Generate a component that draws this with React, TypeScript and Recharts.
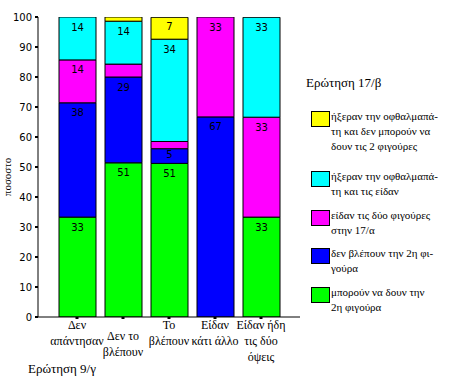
import React from 'react';
import { BarChart, Bar, XAxis, YAxis, LabelList } from 'recharts';

// Categories (Ερώτηση 9/γ), split into display lines
const categoryLines: string[][] = [
  ['Δεν', 'απάντησαν'],
  ['Δεν το', 'βλέπουν'],
  ['Το', 'βλέπουν'],
  ['Είδαν', 'κάτι άλλο'],
  ['Είδαν ήδη', 'τις δύο', 'όψεις'],
];

// Series values (percent), stack order bottom -> top
const canSee = [33.3, 51.4, 51.2, 0, 33.3];
const cannotSee = [38.1, 28.6, 4.9, 66.7, 0];
const sawBoth = [14.3, 4.3, 2.4, 33.3, 33.3];
const knewAndSaw = [14.3, 14.3, 34.1, 0, 33.3];
const knewCannot = [0, 1.4, 7.3, 0, 0];

const yTicks = [0, 10, 20, 30, 40, 50, 60, 70, 80, 90, 100];

const seriesKeys = ['canSee', 'cannotSee', 'sawBoth', 'knewAndSaw', 'knewCannot'];
const seriesValues = [canSee, cannotSee, sawBoth, knewAndSaw, knewCannot];
const seriesColors = ['#00ff00', '#0000ff', '#ff00ff', '#00ffff', '#ffff00'];
const seriesLegendLines: string[][] = [
  ['μπορούν να δουν την', '2η φιγούρα'],
  ['δεν βλέπουν την 2η φι-', 'γούρα'],
  ['είδαν τις δύο φιγούρες', 'στην 17/α'],
  ['ήξεραν την οφθαλμαπά-', 'τη και τις είδαν'],
  ['ήξεραν την οφθαλμαπά-', 'τη και δεν μπορούν να', 'δουν τις 2 φιγούρες'],
];

const xTitle = 'Ερώτηση 9/γ';
const yTitle = 'ποσοστο';
const legendTitle = 'Ερώτηση 17/β';

const data = categoryLines.map((lines, i) => {
  const row: Record<string, any> = { name: lines.join(' ') };
  seriesKeys.forEach((k, s) => {
    row[k] = seriesValues[s][i];
  });
  return row;
});

const serif = '"Liberation Serif", "Times New Roman", serif';
const sans = '"DejaVu Sans", sans-serif';

const XTick = (props: any) => {
  const { x, y, payload } = props;
  const idx = payload?.index ?? props.index ?? 0;
  const lines = categoryLines[idx] || [];
  const extra = idx === 1 ? 11 : 0;
  return (
    <text x={x} y={y} textAnchor="middle" fontFamily={serif} fontSize={12} fill="#000">
      {lines.map((l, i) => (
        <tspan key={i} x={x} dy={i === 0 ? 8 + extra : 16}>
          {l}
        </tspan>
      ))}
    </text>
  );
};

const makeLabel = () => (props: any) => {
  const { x, y, width, height, value } = props;
  if (value == null || Math.round(Number(value)) < 5) return null;
  const off = Math.min(10, Number(height) / 2 - 2);
  return (
    <text
      x={Number(x) + Number(width) / 2}
      y={Number(y) + off}
      textAnchor="middle"
      dominantBaseline="central"
      fontFamily={sans}
      fontSize={10}
      fill="#000"
    >
      {Math.round(Number(value))}
    </text>
  );
};

export default function App() {
  const legendOrder = [4, 3, 2, 1, 0];
  return (
    <div style={{ position: 'absolute', left: 0, top: 0, width: 451, height: 383, background: '#fff' }}>
      <BarChart
        width={451}
        height={383}
        data={data}
        margin={{ top: 17, right: 151, left: 0, bottom: 0 }}
        barSize={37}
      >
        <XAxis
          dataKey="name"
          xAxisId="main"
          height={66}
          padding={{ left: 16, right: 16 }}
          axisLine={{ stroke: '#000', strokeWidth: 1 }}
          tickLine={{ stroke: '#000', strokeWidth: 3 }}
          tickSize={2}
          tick={<XTick />}
          interval={0}
        />
        <XAxis
          xAxisId="top"
          orientation="top"
          dataKey="name"
          height={0}
          tick={false}
          tickLine={false}
          axisLine={{ stroke: '#000', strokeWidth: 1 }}
        />
        <YAxis
          yAxisId="main"
          width={38}
          domain={[0, 100]}
          ticks={yTicks}
          allowDataOverflow
          axisLine={{ stroke: '#000', strokeWidth: 1 }}
          tickLine={{ stroke: '#000', strokeWidth: 2 }}
          tickSize={3}
          tickMargin={3}
          tick={{ fill: '#000', fontFamily: sans, fontSize: 10 }}
        />
        <YAxis
          yAxisId="right"
          orientation="right"
          width={0}
          tick={false}
          tickLine={false}
          axisLine={{ stroke: '#000', strokeWidth: 1 }}
        />
        {seriesKeys.map((k, s) => (
          <Bar
            key={k}
            dataKey={k}
            stackId="a"
            xAxisId="main"
            yAxisId="main"
            fill={seriesColors[s]}
            stroke="#000"
            strokeWidth={1}
            isAnimationActive={false}
          >
            <LabelList dataKey={k} content={makeLabel()} />
          </Bar>
        ))}
      </BarChart>

      {/* Y axis title */}
      <div
        style={{
          position: 'absolute',
          left: 7,
          top: 177,
          transform: 'translate(-50%, -50%) rotate(-90deg)',
          fontFamily: serif,
          fontSize: 11,
          whiteSpace: 'nowrap',
          lineHeight: 1,
        }}
      >
        {yTitle}
      </div>

      {/* X axis title */}
      <div
        style={{
          position: 'absolute',
          left: 28,
          top: 362,
          fontFamily: serif,
          fontSize: 13,
          whiteSpace: 'nowrap',
          lineHeight: 1,
        }}
      >
        {xTitle}
      </div>

      {/* Legend */}
      <div style={{ position: 'absolute', left: 306, top: 76, fontFamily: serif, fontSize: 13, lineHeight: 1, whiteSpace: 'nowrap' }}>
        {legendTitle}
      </div>
      <div style={{ position: 'absolute', left: 311, top: 111, display: 'flex', flexDirection: 'column' }}>
        {legendOrder.map((s) => (
          <div
            key={s}
            style={{
              display: 'flex',
              alignItems: 'flex-start',
              marginBottom: seriesLegendLines[s].length > 2 ? 17 : 10.5,
            }}
          >
            <div
              style={{
                width: 17,
                height: 14,
                background: seriesColors[s],
                border: '1px solid #000',
                flex: 'none',
              }}
            />
            <div style={{ fontFamily: serif, fontSize: 11, lineHeight: '15px', marginLeft: 1, marginTop: -2, whiteSpace: 'nowrap' }}>
              {seriesLegendLines[s].map((l, i) => (
                <div key={i}>{l}</div>
              ))}
            </div>
          </div>
        ))}
      </div>
    </div>
  );
}
